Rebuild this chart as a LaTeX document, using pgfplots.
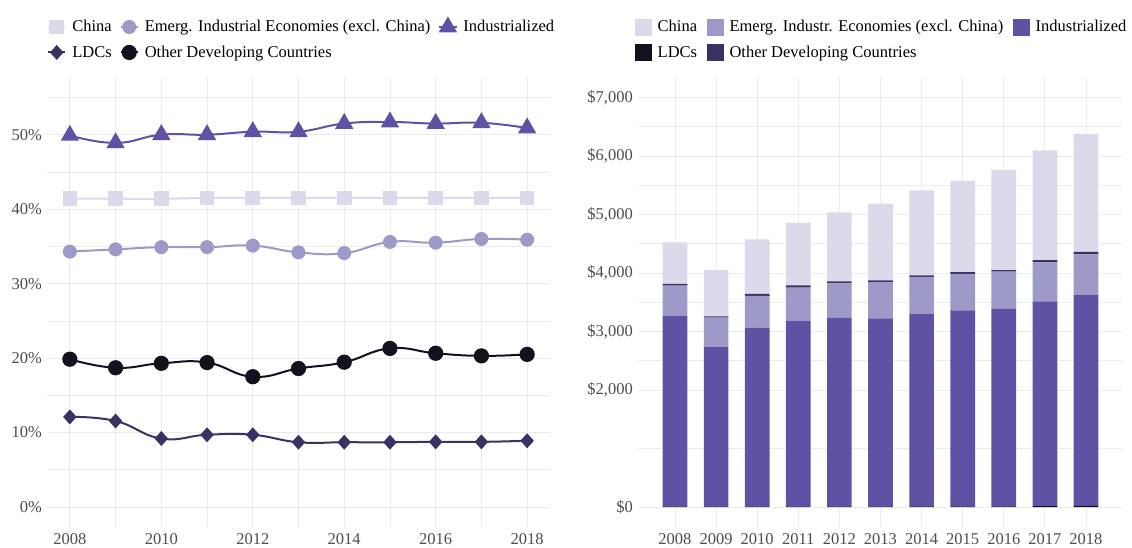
\documentclass[border=0pt]{standalone}
\usepackage{fontspec}
\setmainfont{Liberation Serif}
\usepackage{pgfplots}
\usepackage{pgfplotstable}
\pgfplotsset{compat=1.18}
\definecolor{chinaC}{HTML}{DADAEB}
\definecolor{emergC}{HTML}{9E9AC8}
\definecolor{indC}{HTML}{5E52A4}
\definecolor{darkP}{HTML}{3C3163}
\definecolor{blackC}{HTML}{14111F}
\definecolor{gridC}{HTML}{EBEBEB}
\definecolor{tickC}{HTML}{4D4D4D}

\pgfplotstableread{
year china emerg ind ldc other
2008 41.4 34.3 49.9 12.1 19.85
2009 41.4 34.6 48.9 11.55 18.7
2010 41.4 34.9 50.0 9.2 19.3
2011 41.5 34.9 50.0 9.7 19.4
2012 41.5 35.1 50.4 9.7 17.5
2013 41.5 34.2 50.4 8.7 18.6
2014 41.5 34.1 51.5 8.7 19.45
2015 41.5 35.6 51.7 8.7 21.3
2016 41.5 35.5 51.5 8.75 20.65
2017 41.5 36.0 51.6 8.75 20.3
2018 41.5 35.9 50.9 8.9 20.5
}\sharetable

\pgfplotstableread{
year ldc ind emerg other china
2008 2 3263 518 29 712
2009 2 2730 504 24 791
2010 2 3063 542 34 935
2011 2 3183 564 41 1065
2012 3 3228 593 34 1179
2013 4 3221 621 29 1310
2014 12 3293 627 28 1453
2015 12 3350 621 34 1556
2016 12 3373 637 29 1710
2017 14 3502 667 39 1875
2018 20 3609 691 39 2017
}\bartable

\pgfplotsset{
  common/.style={
    scale only axis,
    anchor=south west,
    axis line style={draw=none},
    major tick length=0pt, minor tick length=0pt,
    major grid style={color=gridC, line width=0.9pt},
    minor grid style={color=gridC, line width=0.6pt},
    /pgf/number format/assume math mode=true,
    tick label style={font=\fontsize{16.5pt}{19pt}\selectfont, text=tickC},
    x tick label style={inner sep=0pt, yshift=-6pt, anchor=north, /pgf/number format/1000 sep={}},
    y tick label style={inner sep=0pt, xshift=-5pt, anchor=east},
    scaled ticks=false,
    legend columns=3,
    legend cell align=left,
    legend style={draw=none, fill=none, inner sep=0pt,
      font=\fontsize{16.5pt}{19pt}\selectfont,
      nodes={inner sep=2pt},
      row sep=8.5pt,
      /tikz/every odd column/.append style={column sep=4pt},
      /tikz/every even column/.append style={column sep=6pt}},
  }
}

\begin{document}
\begin{tikzpicture}
\useasboundingbox (0pt,0pt) rectangle (1132pt,548pt);
\begin{axis}[common,
  at={(47pt,20.5pt)}, width=503pt, height=450.5pt,
  xmin=2007.5, xmax=2018.5, ymin=-2.75, ymax=57.75,
  xtick={2008,2010,...,2018}, minor xtick={2009,2011,...,2017},
  ytick={0,10,...,50}, minor ytick={5,15,...,55},
  grid=both,
  yticklabel={\pgfmathprintnumber{\tick}\%},
  legend style={at={(0,1.1305)}, anchor=north west},
]
\addplot[color=chinaC, line width=2pt, smooth, tension=0.8, mark=square*, mark size=6.3pt] table[x=year,y=china]{\sharetable};
\addlegendentry{China}
\addplot[color=emergC, line width=2pt, smooth, tension=0.8, mark=*, mark size=6pt] table[x=year,y=emerg]{\sharetable};
\addlegendentry{Emerg. Industrial Economies (excl. China)}
\addplot[color=indC, line width=2pt, smooth, tension=0.8, mark=triangle*, mark size=8.6pt] table[x=year,y=ind]{\sharetable};
\addlegendentry{Industrialized}
\addplot[color=darkP, line width=2pt, smooth, tension=0.8, mark=diamond*, mark size=6pt, mark options={xscale=1.2}] table[x=year,y=ldc]{\sharetable};
\addlegendentry{LDCs}
\addplot[color=blackC, line width=2pt, smooth, tension=0.8, mark=*, mark size=6.6pt] table[x=year,y=other]{\sharetable};
\addlegendentry{Other Developing Countries}
\end{axis}

\begin{axis}[common,
  at={(638pt,20.5pt)}, width=485pt, height=450.5pt,
  xmin=2007.1, xmax=2018.9, ymin=-350, ymax=7350,
  ybar stacked, bar width=0.6,
  xtick={2008,2009,...,2018},
  ytick={0,2000,3000,4000,5000,6000,7000},
  minor ytick={1000,2500,3500,4500,5500,6500},
  xmajorgrids, ymajorgrids, yminorgrids,
  y tick label style={/pgf/number format/.cd, fixed, precision=0, 1000 sep={,}},
  yticklabel={\$\pgfmathprintnumber{\tick}},
  legend style={at={(-0.006,1.1305)}, anchor=north west,
    /tikz/every even column/.append style={column sep=8pt}},
]
\addlegendimage{legend image code/.code={\fill[chinaC] (0pt,-8pt) rectangle (16pt,8pt);}}
\addlegendentry{China}
\addlegendimage{legend image code/.code={\fill[emergC] (0pt,-8pt) rectangle (16pt,8pt);}}
\addlegendentry{Emerg. Industr. Economies (excl. China)}
\addlegendimage{legend image code/.code={\fill[indC] (0pt,-8pt) rectangle (16pt,8pt);}}
\addlegendentry{Industrialized}
\addlegendimage{legend image code/.code={\fill[blackC] (0pt,-8pt) rectangle (16pt,8pt);}}
\addlegendentry{LDCs}
\addlegendimage{legend image code/.code={\fill[darkP] (0pt,-8pt) rectangle (16pt,8pt);}}
\addlegendentry{Other Developing Countries}
\addplot[fill=blackC, draw=none, forget plot] table[x=year,y=ldc]{\bartable};
\addplot[fill=indC, draw=none, forget plot] table[x=year,y=ind]{\bartable};
\addplot[fill=emergC, draw=none, forget plot] table[x=year,y=emerg]{\bartable};
\addplot[fill=darkP, draw=none, forget plot] table[x=year,y=other]{\bartable};
\addplot[fill=chinaC, draw=none, forget plot] table[x=year,y=china]{\bartable};
\end{axis}
\end{tikzpicture}
\end{document}
